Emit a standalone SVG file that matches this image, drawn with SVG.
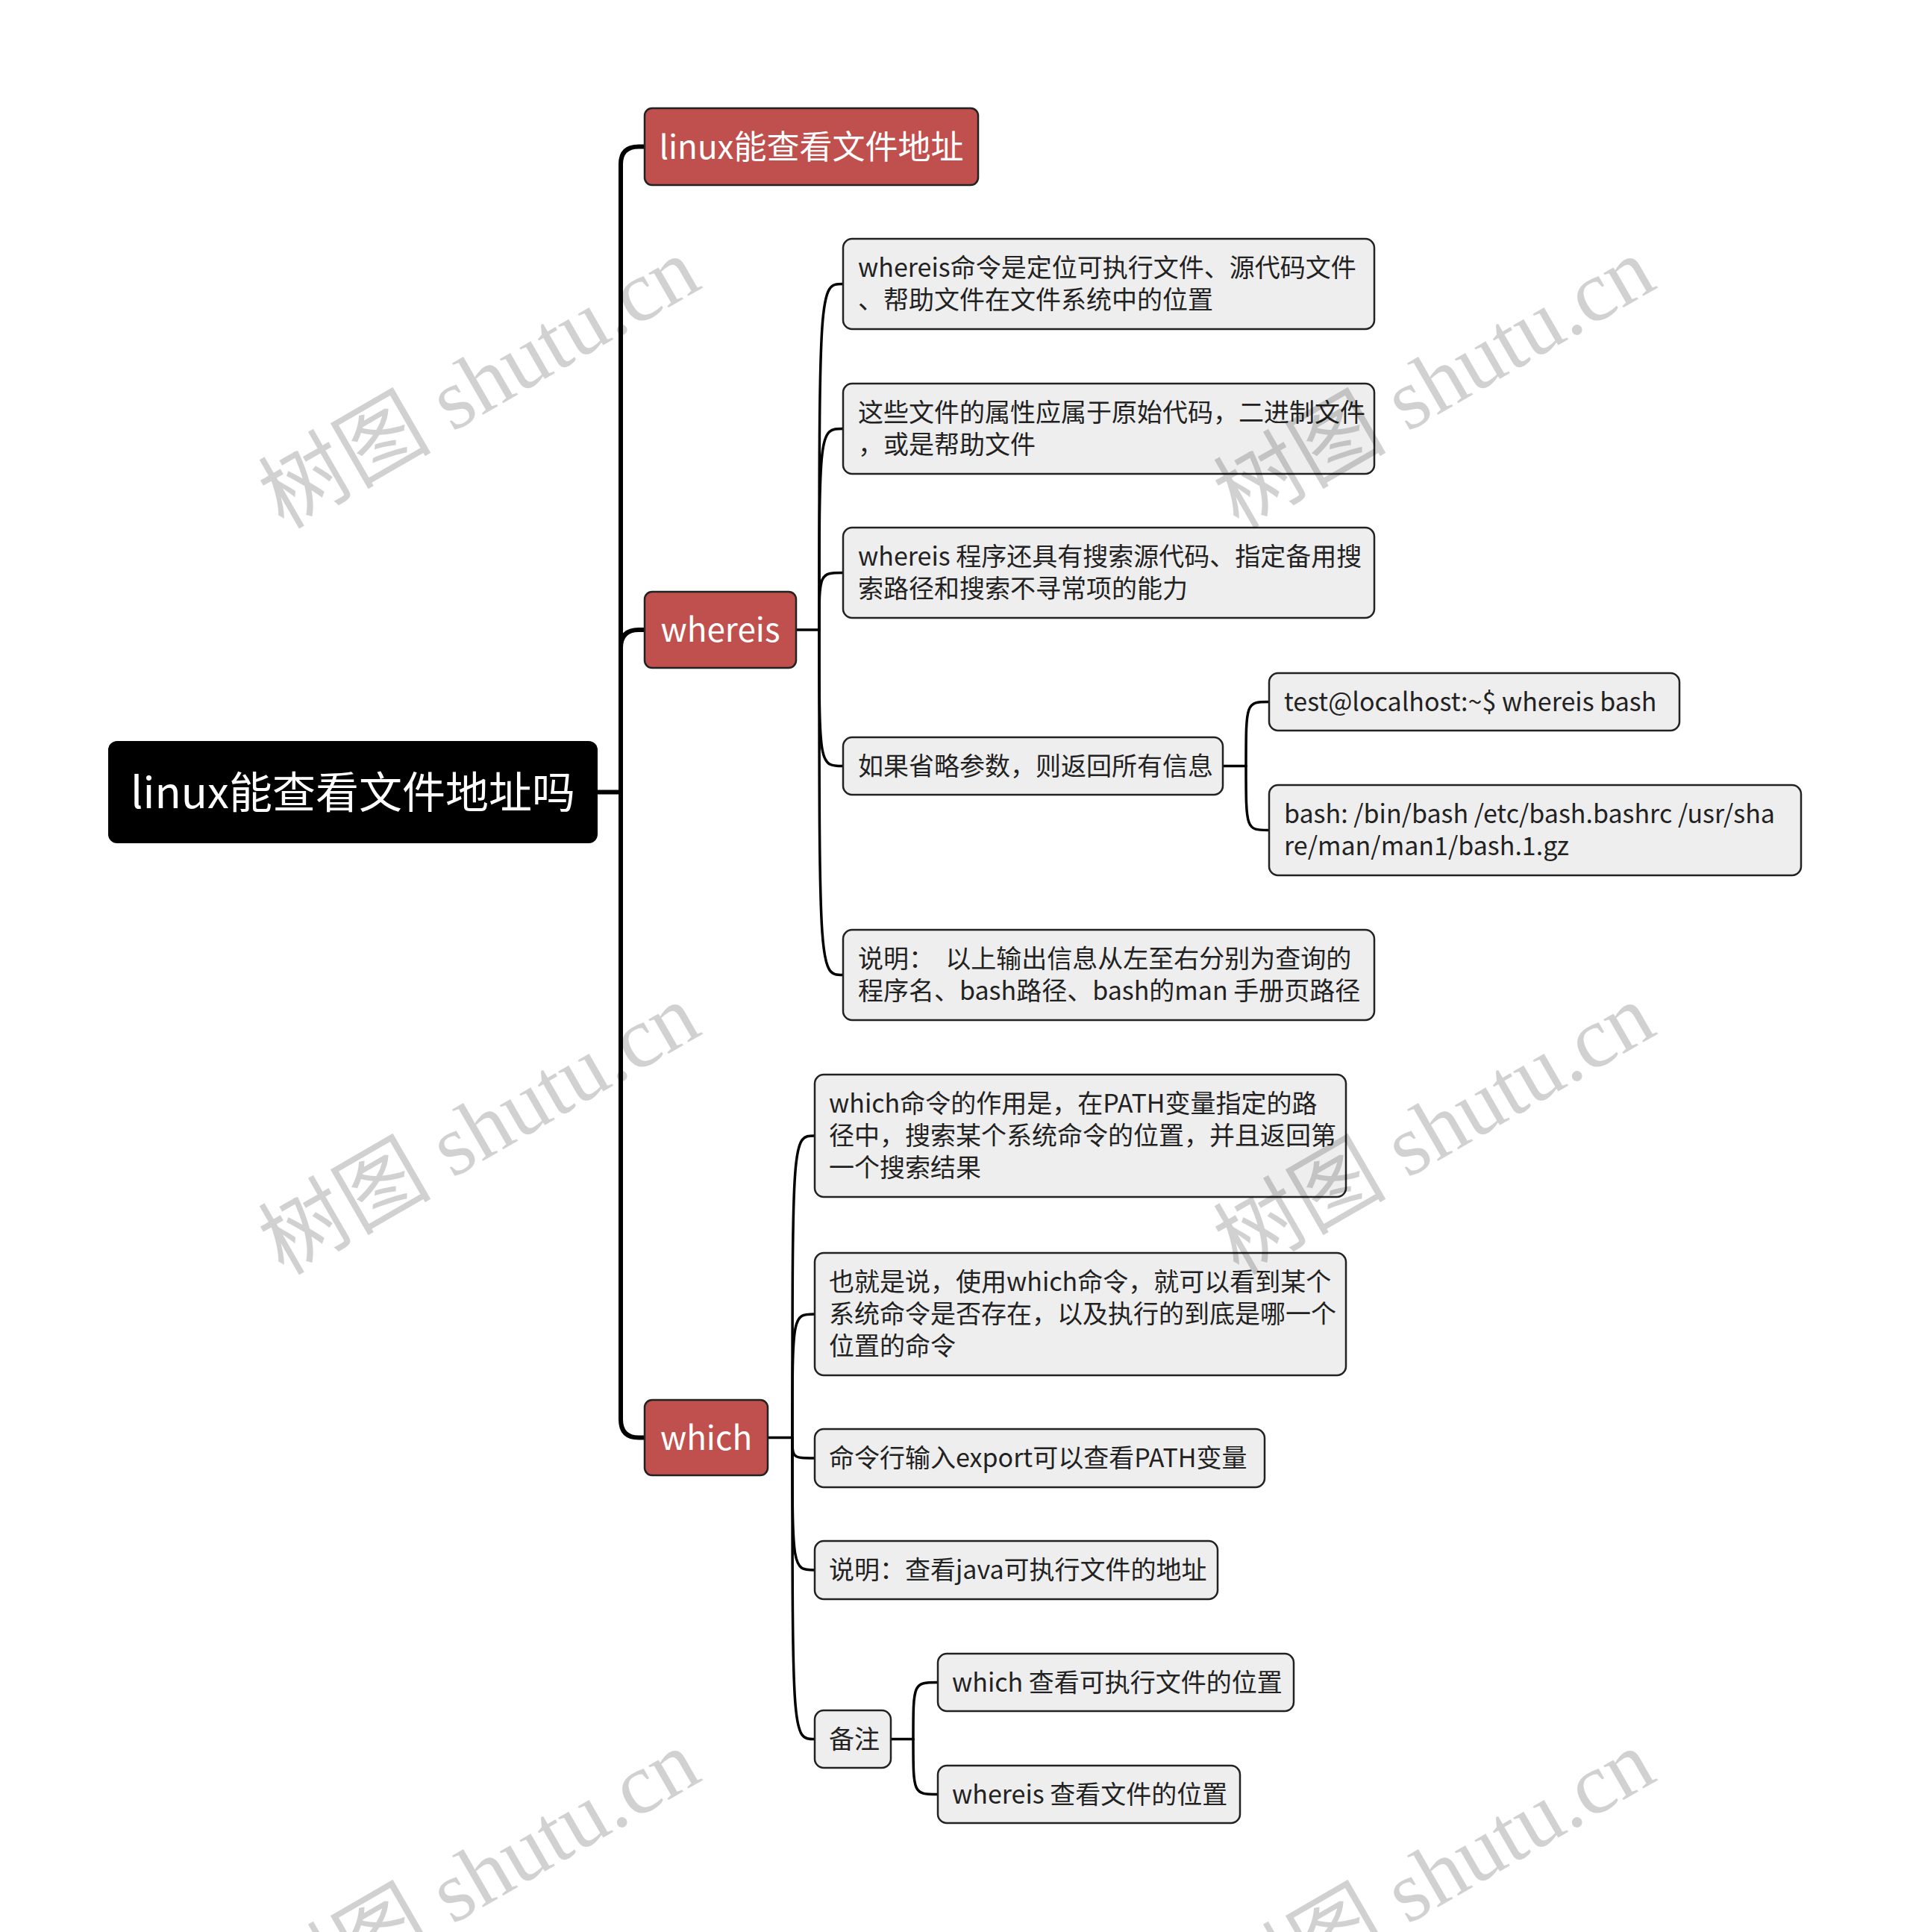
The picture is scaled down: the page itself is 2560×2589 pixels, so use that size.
<svg xmlns="http://www.w3.org/2000/svg" width="2560" height="2589" viewBox="0 0 2560 2589">
<style>
.bg{fill:#ffffff}
.root rect{fill:#000000;stroke:none}
.root text{fill:#ffffff;font-size:58px}
.main rect{fill:#c0504d;stroke:#222222;stroke-width:2.5}
.main text{fill:#ffffff;font-size:44px}
.sub rect{fill:#eeeeee;stroke:#222222;stroke-width:2.5}
.sub text{fill:#222222;font-size:34px}
text{font-family:"Noto Sans CJK SC","Noto Sans",sans-serif}
.conn path{fill:none;stroke:#000000;stroke-linecap:round;stroke-linejoin:round}
.conn .m{stroke-width:6}
.conn .s{stroke-width:3.5}
.wm text{font-family:"Liberation Serif","Noto Sans CJK SC",serif;font-size:116px;fill:#000000;fill-opacity:0.18}
</style>
<rect class="bg" x="0" y="0" width="2560" height="2589"/>

<g id="connectors" class="conn">
  <path class="m" d="M801,1061.5 H832"/>
  <path class="m" d="M832,1061.5 V220 Q832,196.5 856,196.5 H864"/>
  <path class="m" d="M832,1061.5 V868 Q832,844 856,844 H864"/>
  <path class="m" d="M832,1061.5 V1902 Q832,1926.5 856,1926.5 H864"/>

  <path class="s" d="M1067,844 H1098"/>
  <path class="s" d="M1098,844 C1098,380.5 1098,380.5 1130,380.5"/>
  <path class="s" d="M1098,844 C1098,574.5 1098,574.5 1130,574.5"/>
  <path class="s" d="M1098,844 C1098,767.5 1098,767.5 1130,767.5"/>
  <path class="s" d="M1098,844 C1098,1026.5 1098,1026.5 1130,1026.5"/>
  <path class="s" d="M1098,844 C1098,1306.5 1098,1306.5 1130,1306.5"/>

  <path class="s" d="M1639,1026.5 H1670"/>
  <path class="s" d="M1670,1026.5 C1670,940.5 1670,940.5 1701,940.5"/>
  <path class="s" d="M1670,1026.5 C1670,1112.5 1670,1112.5 1701,1112.5"/>

  <path class="s" d="M1029,1926.5 H1062"/>
  <path class="s" d="M1062,1926.5 C1062,1522 1062,1522 1092,1522"/>
  <path class="s" d="M1062,1926.5 C1062,1761 1062,1761 1092,1761"/>
  <path class="s" d="M1062,1926.5 C1062,1954 1062,1954 1092,1954"/>
  <path class="s" d="M1062,1926.5 C1062,2104 1062,2104 1092,2104"/>
  <path class="s" d="M1062,1926.5 C1062,2330.5 1062,2330.5 1092,2330.5"/>

  <path class="s" d="M1194,2330.5 H1224"/>
  <path class="s" d="M1224,2330.5 C1224,2254.5 1224,2254.5 1257,2254.5"/>
  <path class="s" d="M1224,2330.5 C1224,2404.5 1224,2404.5 1257,2404.5"/>
</g>

<g id="root" class="root">
  <rect x="145" y="993" width="656" height="137" rx="12"/>
  <text x="473" y="1082.5" text-anchor="middle">linux能查看文件地址吗</text>
</g>

<g id="n-linux" class="main">
  <rect x="864" y="145" width="447" height="103" rx="10"/>
  <text x="1087.5" y="212.5" text-anchor="middle">linux能查看文件地址</text>
</g>
<g id="n-whereis" class="main">
  <rect x="864" y="793" width="203" height="102" rx="10"/>
  <text x="965.5" y="860" text-anchor="middle">whereis</text>
</g>
<g id="n-which" class="main">
  <rect x="864" y="1876" width="165" height="101" rx="10"/>
  <text x="946.5" y="1942.5" text-anchor="middle">which</text>
</g>

<g id="n-a" class="sub">
  <rect x="1130" y="320" width="712" height="121" rx="12"/>
  <text x="1150" y="371">whereis命令是定位可执行文件、源代码文件</text>
  <text x="1150" y="414">、帮助文件在文件系统中的位置</text>
</g>
<g id="n-b" class="sub">
  <rect x="1130" y="514" width="712" height="121" rx="12"/>
  <text x="1150" y="565">这些文件的属性应属于原始代码，二进制文件</text>
  <text x="1150" y="608">，或是帮助文件</text>
</g>
<g id="n-c" class="sub">
  <rect x="1130" y="707" width="712" height="121" rx="12"/>
  <text x="1150" y="758">whereis 程序还具有搜索源代码、指定备用搜</text>
  <text x="1150" y="801">索路径和搜索不寻常项的能力</text>
</g>
<g id="n-d" class="sub">
  <rect x="1130" y="988" width="509" height="77" rx="12"/>
  <text x="1150" y="1038.5">如果省略参数，则返回所有信息</text>
</g>
<g id="n-e" class="sub">
  <rect x="1130" y="1246" width="712" height="121" rx="12"/>
  <text x="1150" y="1297">说明：&#160; 以上输出信息从左至右分别为查询的</text>
  <text x="1150" y="1340">程序名、bash路径、bash的man 手册页路径</text>
</g>
<g id="n-f" class="sub">
  <rect x="1701" y="902" width="550" height="77" rx="12"/>
  <text x="1721" y="952.5">test@localhost:~$ whereis bash</text>
</g>
<g id="n-g" class="sub">
  <rect x="1701" y="1052" width="713" height="121" rx="12"/>
  <text x="1721" y="1103">bash: /bin/bash /etc/bash.bashrc /usr/sha</text>
  <text x="1721" y="1146">re/man/man1/bash.1.gz</text>
</g>

<g id="n-h" class="sub">
  <rect x="1092" y="1440" width="712" height="164" rx="12"/>
  <text x="1111" y="1491">which命令的作用是，在PATH变量指定的路</text>
  <text x="1111" y="1534">径中，搜索某个系统命令的位置，并且返回第</text>
  <text x="1111" y="1577">一个搜索结果</text>
</g>
<g id="n-i" class="sub">
  <rect x="1092" y="1679" width="712" height="164" rx="12"/>
  <text x="1111" y="1730">也就是说，使用which命令，就可以看到某个</text>
  <text x="1111" y="1773">系统命令是否存在，以及执行的到底是哪一个</text>
  <text x="1111" y="1816">位置的命令</text>
</g>
<g id="n-j" class="sub">
  <rect x="1092" y="1915" width="603" height="78" rx="12"/>
  <text x="1111" y="1966">命令行输入export可以查看PATH变量</text>
</g>
<g id="n-k" class="sub">
  <rect x="1092" y="2065" width="540" height="78" rx="12"/>
  <text x="1111" y="2116">说明：查看java可执行文件的地址</text>
</g>
<g id="n-l" class="sub">
  <rect x="1092" y="2292" width="102" height="77" rx="12"/>
  <text x="1111" y="2342.5">备注</text>
</g>
<g id="n-m" class="sub">
  <rect x="1257" y="2216" width="477" height="77" rx="12"/>
  <text x="1276" y="2266.5">which 查看可执行文件的位置</text>
</g>
<g id="n-n" class="sub">
  <rect x="1257" y="2366" width="405" height="77" rx="12"/>
  <text x="1276" y="2416.5">whereis 查看文件的位置</text>
</g>

<g id="watermarks" class="wm">
  <text x="380" y="710" transform="rotate(-30 380 710)">树图 shutu.cn</text>
  <text x="1660" y="710" transform="rotate(-30 1660 710)">树图 shutu.cn</text>
  <text x="380" y="1710" transform="rotate(-30 380 1710)">树图 shutu.cn</text>
  <text x="1660" y="1710" transform="rotate(-30 1660 1710)">树图 shutu.cn</text>
  <text x="380" y="2710" transform="rotate(-30 380 2710)">树图 shutu.cn</text>
  <text x="1660" y="2710" transform="rotate(-30 1660 2710)">树图 shutu.cn</text>
</g>
</svg>
